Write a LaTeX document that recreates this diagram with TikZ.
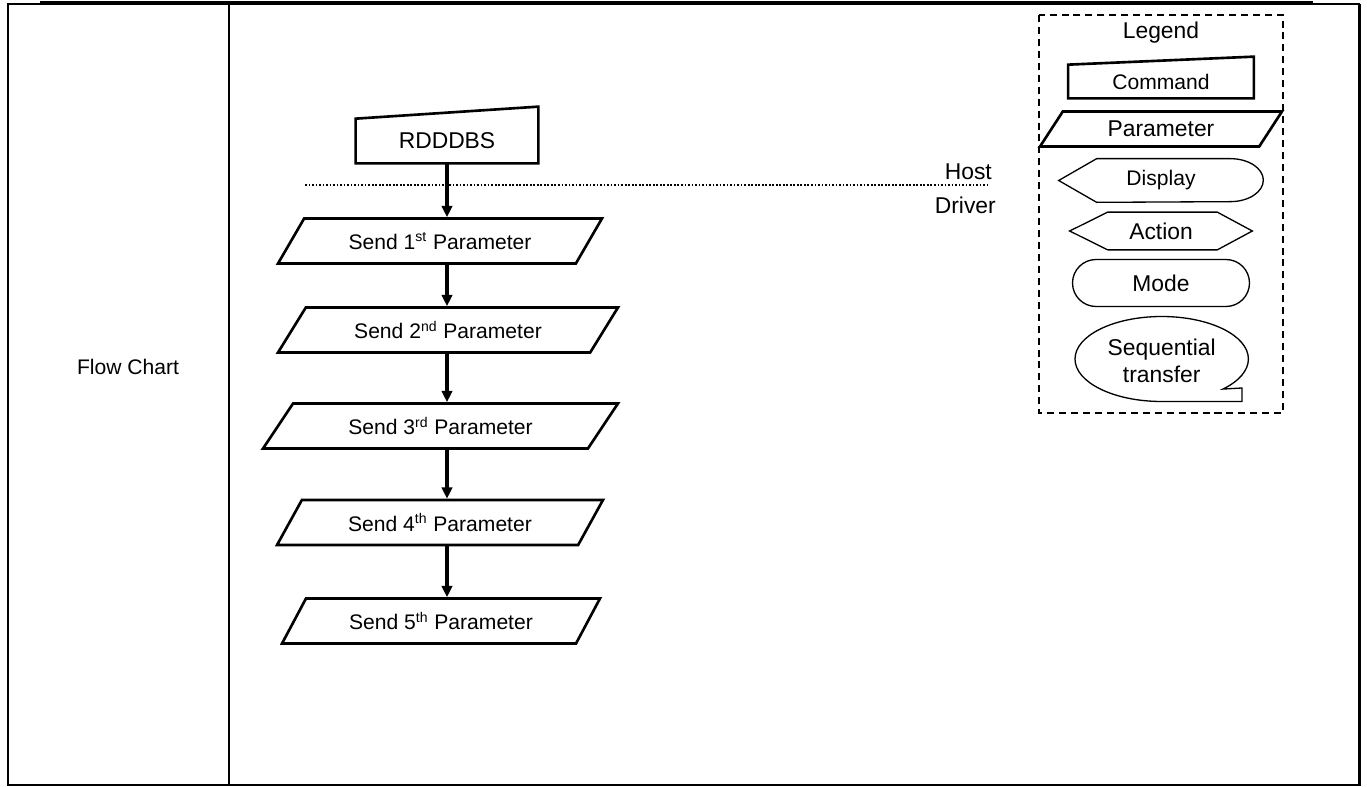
\documentclass[tikz,border=0pt]{standalone}
\usepackage{fontspec}
\setmainfont{Liberation Sans}
\usepackage{tikz}
\usetikzlibrary{arrows.meta,positioning,shapes.geometric,shapes.misc,calc}
\tikzset{
  frame/.style={line width=1.2pt},
  param/.style={trapezium, trapezium left angle=#1, trapezium right angle=180-#1, trapezium stretches body, draw, line width=1.5pt, minimum height=0.9cm, inner sep=0pt, font=\fontsize{12}{14}\selectfont},
  param/.default=33,
  cmdtext/.style={rectangle, inner sep=0pt, align=center},
  cmdline/.style={line width=1.5pt, line join=miter},
  thinline/.style={line width=0.75pt},
  legendtext/.style={font=\fontsize{13}{15.3}\selectfont, align=center},
  arrow/.style={-{Triangle[length=6.5pt,width=6pt]}, line width=2pt},
  sepline/.style={line width=1pt, dash pattern=on 1pt off 1pt}
}

\begin{document}
\begin{tikzpicture}[x=0.02cm, y=-0.02cm]
  \useasboundingbox (0,0) rectangle (1367,787);
  % table
  \draw[frame] (8,4) rectangle (1359,785);
  \draw[line width=1.7pt] (8,4) -- (8,786);
  \draw[line width=1.7pt] (1359,4) -- (1359,786);
  \draw[line width=2pt] (40,3) -- (1313,3);
  \draw[line width=1.1pt] (229,4) -- (229,785);
  \node[font=\fontsize{12}{14}\selectfont] (fc) at (128,367) {Flow Chart};

  % flow
  \node[cmdtext, minimum width=3.64cm, minimum height=0.88cm, font=\fontsize{13}{15}\selectfont] (rdddbs) at (447,141) {RDDDBS};
  \draw[cmdline] (rdddbs.south west) -- (rdddbs.south east) -- ($(rdddbs.north east)+(0,-12)$) -- (rdddbs.north west) -- cycle;
  \node[param, minimum width=6.48cm] (send1) at (440,241) {Send 1\textsuperscript{st} Parameter};
  \node[param, minimum width=6.8cm] (send2) at (448,330) {Send 2\textsuperscript{nd} Parameter};
  \node[param=31, minimum width=7.1cm] (send3) at (440.5,426) {Send 3\textsuperscript{rd} Parameter};
  \node[param=36, minimum width=6.52cm] (send4) at (440,522.5) {Send 4\textsuperscript{th} Parameter};
  \node[param=37, minimum width=6.36cm] (send5) at (441,621) {Send 5\textsuperscript{th} Parameter};

  \draw[sepline] (305,185) -- (987,185);
  \node[legendtext, anchor=east] (host) at (998,172) {Host};
  \node[legendtext, anchor=east] (driver) at (1002,205) {Driver};

  \draw[arrow] (rdddbs.south) -- (rdddbs.south |- send1.north);
  \draw[arrow] (send1.south -| rdddbs.south) -- (send2.north -| rdddbs.south);
  \draw[arrow] (send2.south -| rdddbs.south) -- (send3.north -| rdddbs.south);
  \draw[arrow] (send3.south -| rdddbs.south) -- (send4.north -| rdddbs.south);
  \draw[arrow] (send4.south -| rdddbs.south) -- (send5.north -| rdddbs.south);

  % legend
  \draw[thinline, dash pattern=on 4pt off 2.8pt] (1039,15) rectangle (1283,413);
  \node[legendtext] (legend) at (1161,33) {Legend};
  \node[cmdtext, minimum width=3.7cm, minimum height=0.66cm, font=\fontsize{12}{14}\selectfont] (lcmd) at (1161,81.5) {Command};
  \draw[cmdline] (lcmd.south west) -- (lcmd.south east) -- ($(lcmd.north east)+(0,-8)$) -- (lcmd.north west) -- cycle;
  \node[param=35, minimum width=4.84cm, minimum height=0.7cm, font=\fontsize{13}{15}\selectfont] (lparam) at (1161,129) {Parameter};
  \node[cmdtext, minimum width=4.08cm, minimum height=0.86cm, font=\fontsize{12}{14}\selectfont] (ldisp) at (1161,180.5) {Display};
  \draw[thinline] (ldisp.west) -- ($(ldisp.north west)+(38,0)$) -- ($(ldisp.north east)+(-33,0)$)
    arc[start angle=270, end angle=450, x radius=33, y radius=21.5] -- ($(ldisp.south west)+(38,0)$) -- cycle;
  \node[cmdtext, minimum width=3.64cm, minimum height=0.74cm, legendtext] (lact) at (1161,231) {Action};
  \draw[thinline] (lact.west) -- ($(lact.north west)+(38,0)$) -- ($(lact.north east)+(-35,0)$) -- (lact.east)
    -- ($(lact.south east)+(-35,0)$) -- ($(lact.south west)+(38,0)$) -- cycle;
  \node[rounded rectangle, draw, thinline, minimum width=3.54cm, minimum height=0.94cm, inner sep=0pt, legendtext] (lmode) at (1161,283) {Mode};
  \node[legendtext, inner sep=0pt] (lseq) at (1161.7,361) {Sequential\\transfer};
  \draw[thinline] ($(lseq.center)+(80.3,27)$) -- ($(lseq.center)+(80.3,40.5)$) -- ($(lseq.center)+(0,40.5)$)
    arc[start angle=90, end angle=405, x radius=86.7, y radius=42.5] -- cycle;
\end{tikzpicture}
\end{document}
